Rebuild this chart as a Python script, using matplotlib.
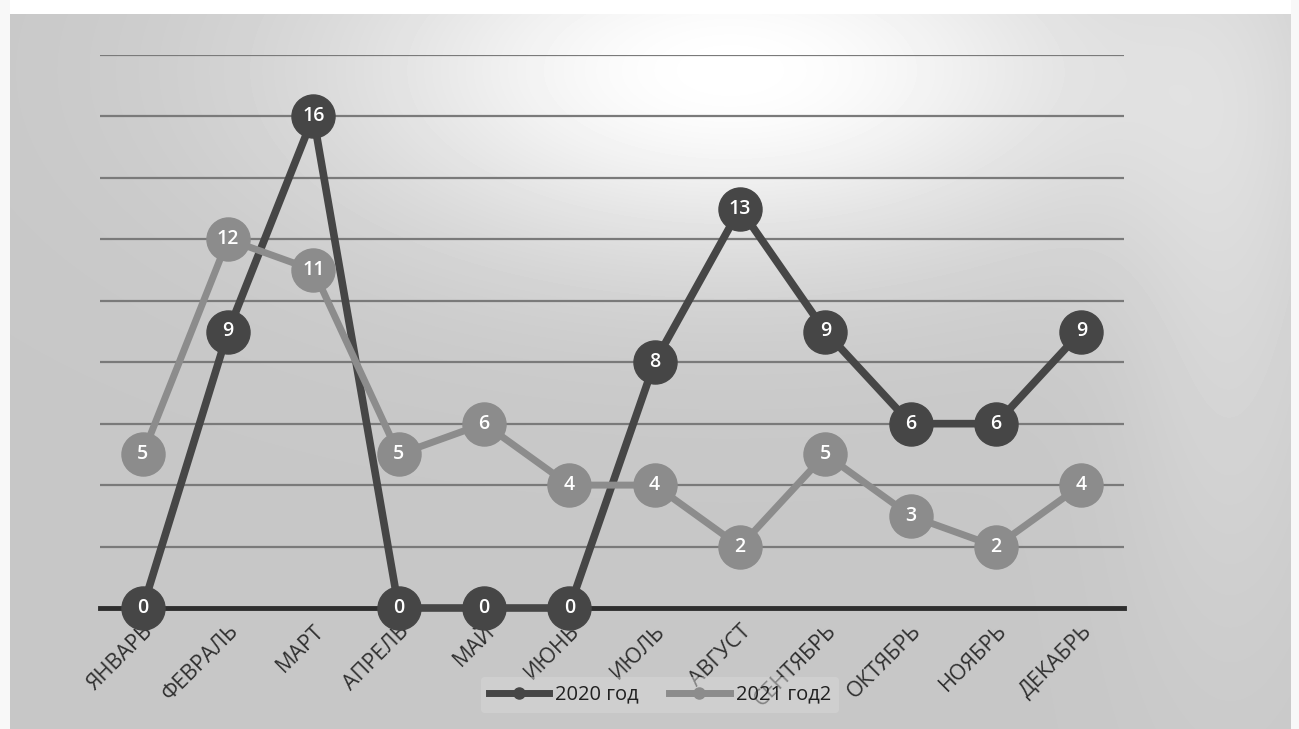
import matplotlib
matplotlib.use("Agg")
import matplotlib.pyplot as plt
from matplotlib.lines import Line2D
import numpy as np

months = ["ЯНВАРЬ", "ФЕВРАЛЬ", "МАРТ", "АПРЕЛЬ", "МАЙ", "ИЮНЬ",
          "ИЮЛЬ", "АВГУСТ", "СЕНТЯБРЬ", "ОКТЯБРЬ", "НОЯБРЬ", "ДЕКАБРЬ"]
y2020 = [0, 9, 16, 0, 0, 0, 8, 13, 9, 6, 6, 9]
y2021 = [5, 12, 11, 5, 6, 4, 4, 2, 5, 3, 2, 4]
names = ["2020 год", "2021 год2"]

c2020 = "#464646"
c2021 = "#8c8c8c"

plt.rcParams['font.family'] = ['Open Sans', 'DejaVu Sans']

W, H = 1299, 729
fig = plt.figure(figsize=(W / 100, H / 100), dpi=100)

# scanned-paper background: grey with a bright band near the top
bg = fig.add_axes([0, 0, 1, 1], zorder=-10)
yy, xx = np.mgrid[0:H, 0:W]
img = 0.78 + 0.22 * np.exp(-(((xx - 730) / 400.0) ** 2 + ((yy - 70) / 190.0) ** 2))
img += 0.06 * np.exp(-(((xx - 1230) / 110.0) ** 2 + ((yy - 250) / 400.0) ** 2))
img = np.clip(img, 0, 1)
img[:14, :] = 1.0
img[:, :10] = 0.97
img[:, W - 8:] = 0.97
bg.imshow(img, cmap="gray", vmin=0, vmax=1, aspect="auto", extent=(0, W, H, 0))
bg.axis("off")

ax = fig.add_axes([100 / W, (H - 608) / H, 1024 / W, 553 / H])
ax.patch.set_alpha(0)
x = np.arange(len(months))
ax.set_xlim(-0.5, len(months) - 0.5)
ax.set_ylim(0, 18)

for v in range(2, 19, 2):
    ax.axhline(v, color="#7a7a7a", lw=1.6, zorder=1)
ax.axhline(0, color="#2e2e2e", lw=3.5, zorder=2, clip_on=False)

for vals, col, lw, z in [(y2020, c2020, 5.5, 3), (y2021, c2021, 5, 4)]:
    ax.plot(x, vals, color=col, lw=lw, marker="o", ms=31, mec=col,
            zorder=z, clip_on=False)
    for xi, v in zip(x, vals):
        ax.text(xi, v, str(v), color="white", fontsize=14, fontweight="semibold",
                ha="center", va="center", zorder=z + 0.5)

for s in ax.spines.values():
    s.set_visible(False)
ax.set_yticks([])
ax.set_xticks(x)
ax.set_xticklabels(months, rotation=45, ha="right", rotation_mode="anchor",
                   fontsize=15.5, color="#303030")
ax.tick_params(axis="x", length=0, pad=9)

handles = [Line2D([0], [0], color=c2020, lw=5, marker="o", ms=8),
           Line2D([0], [0], color=c2021, lw=5, marker="o", ms=8)]
leg = fig.legend(handles, names, loc="center", bbox_to_anchor=(0.508, 0.047),
                 ncol=2, frameon=True, fontsize=14.5, handlelength=3,
                 columnspacing=1.5, handletextpad=0.3)
leg.get_frame().set_facecolor("#d8d8d8")
leg.get_frame().set_edgecolor("none")
leg.get_frame().set_alpha(0.5)
for t in leg.get_texts():
    t.set_color("#202020")

fig.savefig("out.png", dpi=100)
